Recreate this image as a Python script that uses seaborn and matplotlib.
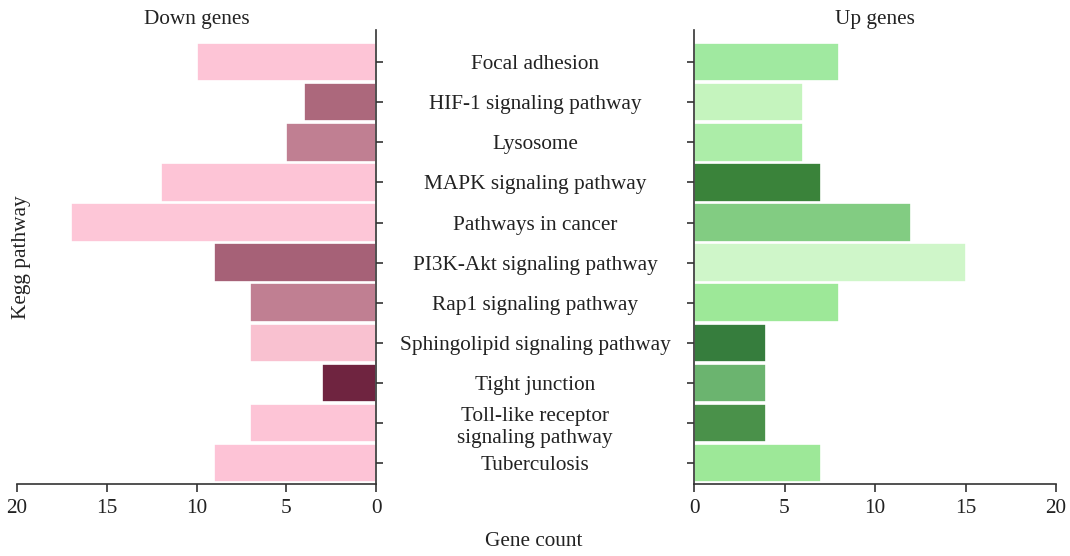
import matplotlib
matplotlib.use("Agg")
import matplotlib.pyplot as plt
import seaborn as sns
import pandas as pd

categories = ["Focal adhesion", "HIF-1 signaling pathway", "Lysosome",
              "MAPK signaling pathway", "Pathways in cancer",
              "PI3K-Akt signaling pathway", "Rap1 signaling pathway",
              "Sphingolipid signaling pathway", "Tight junction",
              "Toll-like receptor\nsignaling pathway", "Tuberculosis"]
down_counts = [10, 4, 5, 12, 17, 9, 7, 7, 3, 7, 9]
up_counts = [8, 6, 6, 7, 12, 15, 8, 4, 4, 4, 7]
down_colors = ["#FDC4D6", "#AC687C", "#C07F92", "#FDC4D6", "#FDC6D7", "#A66177",
               "#C07F92", "#F9C1D0", "#6F2440", "#FDC4D6", "#FDC3D6"]
up_colors = ["#A0E9A0", "#C5F4BE", "#ACEDA8", "#3A833A", "#82CC82", "#CFF6C9",
             "#9DE898", "#367D3D", "#6BB46F", "#4A914A", "#9DE898"]
x_ticks = [0, 5, 10, 15, 20]

sns.set_style("white")
plt.rcParams['font.family'] = ['Liberation Serif', 'DejaVu Serif']
FS = 15.3
TXT = "#222222"
SP = "#333333"

df = pd.DataFrame({"pathway": categories, "down": down_counts, "up": up_counts})

fig = plt.figure(figsize=(10.7, 5.56), dpi=100)
axL = fig.add_axes([17/1070, 1-484/556, 359/1070, 454/556])
axR = fig.add_axes([694/1070, 1-484/556, 362/1070, 454/556])

sns.barplot(data=df, x="down", y="pathway", hue="pathway", palette=down_colors,
            legend=False, ax=axL, width=0.96, edgecolor="white", linewidth=1.2,
            saturation=1)
sns.barplot(data=df, x="up", y="pathway", hue="pathway", palette=up_colors,
            legend=False, ax=axR, width=0.96, edgecolor="white", linewidth=1.2,
            saturation=1)

for ax in (axL, axR):
    ax.set_ylim(10.52, -0.8)
    ax.set_xticks(x_ticks)
    ax.set_xlabel("")
    ax.set_ylabel("")
    ax.spines["top"].set_visible(False)
    ax.spines["bottom"].set_color(SP)
    ax.spines["bottom"].set_linewidth(1.2)
    ax.tick_params(axis="x", labelsize=FS, colors=SP, labelcolor=TXT,
                   length=6, width=1.2, direction="out", bottom=True, pad=5)
    ax.tick_params(axis="y", length=5, width=1.2, colors=SP, direction="out")

axL.set_xlim(20, 0)
axR.set_xlim(0, 20)

# left panel: y axis on the right, category labels centered in the gap
axL.spines["left"].set_visible(False)
axL.spines["right"].set_color(SP)
axL.spines["right"].set_linewidth(1.2)
axL.yaxis.tick_right()
axL.tick_params(axis="y", left=False, right=True, labelright=True, labelleft=False,
                labelsize=FS, labelcolor=TXT, pad=109.5)
for lab in axL.get_yticklabels():
    lab.set_horizontalalignment("center")
    lab.set_linespacing(1.25)

axR.spines["right"].set_visible(False)
axR.spines["left"].set_color(SP)
axR.spines["left"].set_linewidth(1.2)
axR.tick_params(axis="y", left=True, labelleft=False)

axL.set_title("Down genes", fontsize=FS, color=TXT, pad=4)
axR.set_title("Up genes", fontsize=FS, color=TXT, pad=4)

fig.text(534/1070, 1-541/556, "Gene count", fontsize=FS, color=TXT,
         ha="center", va="center")
fig.text(22/1070, 1-257/556, "Kegg pathway", fontsize=FS, color=TXT,
         ha="center", va="center", rotation=90)

fig.savefig("out.png", dpi=100)
